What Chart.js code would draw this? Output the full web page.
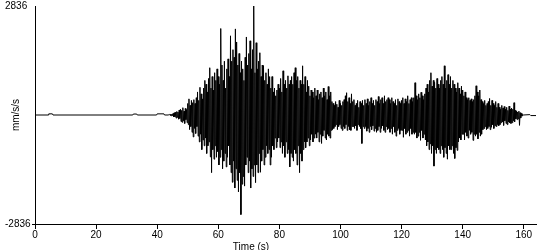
<!DOCTYPE html>
<html>
<head>
<meta charset="utf-8">
<script src="https://cdn.jsdelivr.net/npm/chart.js@4"></script>
<style>
  body { margin: 0; background: #fff; }
</style>
</head>
<body>
<canvas id="myChart" width="550" height="250"></canvas>
<script>
// quiet part before the event (time s, mm/s/s)
const preTimes  = [0, 4.3, 4.5, 5.7, 5.9, 32.0, 32.2, 33.3, 33.5, 39.8, 40.0, 42.2, 42.4, 43.6];
const preValues = [0, 0, 30, 30, 0, 0, 25, 25, 0, 0, 30, 30, 0, 0];

// event, one value every waveStep seconds from waveStart (20 values = 4 s per row)
const waveStart = 44;
const waveStep = 0.2;
const waveValues = [
    15, -10, 20, -20, 25, -15, 40, -50, 60, -45, 70, -80, 90, -60, 80, -110, 130, -90, 150, -170,                       // 44
    120, -190, 190, -150, 100, -220, 170, -120, 140, -200, 300, -250, 420, -380, 250, -300, 380, -450, 320, -570,          // 48
    400, -350, 300, -480, 450, -300, 600, -550, 380, -700, 720, -500, 550, -900, 420, -650, 700, -800, 900, -600,          // 52
    800, -1000, 600, -800, 950, -700, 1230, -1090, 700, -1500, 1000, -900, 650, -1150, 1100, -800, 900, -1100, 1200, -950, // 56
    1000, -1300, 800, -1100, 2250, -900, 1300, -1400, 900, -1200, 1400, -1000, 700, -1350, 1200, -1100, 1460, -800, 1000, -1300, // 60
    2060, -1500, 1400, -1750, 1700, -1200, 1500, -1900, 2240, -1400, 1900, -1700, 1300, -2000, 1600, -1500, 1100, -2590, 1400, -1800, // 64
    1200, -1600, 900, -1850, 1500, -1300, 2030, -1100, 1300, -1500, 1600, -1200, 1930, -1900, 1200, -1400, 1700, -1600, 2836, -1300, // 68
    1100, -1760, 1880, -1300, 1200, -1500, 1400, -1000, 1620, -1490, 1000, -1200, 1300, -900, 1280, -1300, 900, -1100, 1100, -800, // 72
    800, -1000, 1200, -900, 1000, -1300, 700, -1100, 1000, -800, 600, -900, 700, -600, 500, -850, 650, -700, 800, -600,    // 76
    700, -850, 950, -700, 600, -1000, 1150, -800, 800, -1100, 900, -700, 700, -1000, 1020, -900, 800, -1350, 900, -1000,   // 80
    1000, -1100, 800, -1200, 1100, -900, 1230, -1000, 900, -1300, 1000, -800, 700, -1500, 900, -1000, 800, -1200, 1280, -900, // 84
    800, -700, 1000, -850, 600, -700, 900, -600, 750, -800, 500, -650, 650, -500, 600, -700, 450, -600, 700, -500,         // 88
    500, -600, 650, -450, 400, -700, 550, -500, 600, -740, 450, -550, 700, -400, 500, -600, 600, -650, 400, -500,          // 92
    740, -550, 500, -600, 600, -400, 350, -380, 300, -350, 250, -300, 350, -250, 280, -380, 200, -300, 380, -250,          // 96
    300, -350, 250, -400, 350, -300, 400, -350, 500, -250, 580, -400, 350, -300, 450, -380, 300, -400, 550, -300,          // 100
    350, -300, 400, -350, 250, -280, 300, -400, 380, -250, 200, -300, 350, -350, 300, -740, 380, -300, 250, -350,          // 104
    400, -300, 300, -420, 420, -350, 250, -450, 350, -300, 450, -380, 300, -280, 380, -420, 250, -350, 400, -450,          // 108
    350, -400, 480, -300, 300, -450, 400, -350, 450, -280, 300, -400, 500, -450, 350, -300, 400, -380, 450, -350,          // 112
    400, -450, 300, -350, 450, -500, 350, -300, 300, -450, 400, -550, 250, -400, 420, -350, 350, -500, 300, -400,          // 116
    380, -400, 450, -580, 300, -350, 420, -500, 350, -450, 500, -400, 300, -550, 400, -350, 450, -500, 350, -450,          // 120
    450, -500, 840, -450, 500, -600, 400, -550, 550, -450, 450, -660, 590, -400, 500, -600, 400, -500, 550, -650,          // 124
    700, -800, 800, -700, 600, -900, 900, -750, 1100, -1000, 750, -800, 900, -1330, 850, -900, 700, -1000, 950, -850,      // 128
    800, -900, 700, -1000, 900, -800, 1000, -900, 800, -1100, 1280, -850, 700, -1000, 900, -1150, 1050, -800, 800, -900,   // 132
    1000, -900, 700, -800, 900, -1000, 800, -1130, 700, -850, 600, -920, 840, -700, 700, -600, 550, -650, 750, -500,       // 136
    650, -500, 500, -650, 600, -450, 450, -550, 400, -600, 450, -400, 380, -500, 420, -450, 350, -660, 400, -500,          // 140
    500, -550, 760, -500, 600, -620, 500, -450, 650, -550, 400, -500, 350, -380, 300, -350, 380, -300, 250, -380,          // 144
    300, -350, 350, -300, 430, -380, 250, -320, 380, -250, 300, -350, 250, -280, 350, -300, 200, -250, 300, -280,          // 148
    200, -250, 150, -200, 250, -180, 180, -270, 220, -150, 150, -220, 200, -250, 120, -180, 230, -200, 150, -220,          // 152
    180, -200, 150, -150, 320, -180, 120, -100, 100, -120, 80, -100, 100, -270, 60, -80, 40, -30, 10, 0                   // 156
];

// tail after the event
const postTimes  = [162, 162.3, 164];
const postValues = [10, -15, -15];

const xTicks = [0, 20, 40, 60, 80, 100, 120, 140, 160];
const yTicks = [-2836, 2836];

const points = [];
preTimes.forEach((t, i) => points.push({ x: t, y: preValues[i] }));
waveValues.forEach((v, i) => points.push({ x: +(waveStart + i * waveStep).toFixed(2), y: v }));
postTimes.forEach((t, i) => points.push({ x: t, y: postValues[i] }));

const font = { family: "'Liberation Sans', Arial, sans-serif", size: 10 };

// x title sits left of the plot centre in the original
const xTitle = {
    id: 'xTitle',
    afterDraw(chart) {
        const ctx = chart.ctx;
        ctx.save();
        ctx.font = "10px 'Liberation Sans', Arial, sans-serif";
        ctx.fillStyle = '#000';
        ctx.textAlign = 'center';
        ctx.textBaseline = 'middle';
        ctx.fillText('Time (s)', 251, 247);
        ctx.restore();
    }
};

new Chart(document.getElementById('myChart').getContext('2d'), {
    type: 'line',
    data: {
        datasets: [{
            data: points,
            borderColor: '#000',
            borderWidth: 1,
            pointRadius: 0,
            tension: 0,
            fill: false
        }]
    },
    options: {
        responsive: false,
        animation: false,
        events: [],
        layout: { padding: { top: 5, right: 14, left: 5, bottom: 0 } },
        plugins: { legend: { display: false }, tooltip: { enabled: false } },
        scales: {
            x: {
                type: 'linear',
                min: 0,
                max: 164,
                afterBuildTicks: axis => { axis.ticks = xTicks.map(v => ({ value: v })); },
                afterFit: axis => { axis.height = 26; },
                grid: { display: true, drawOnChartArea: false, drawTicks: true, tickLength: 5, color: '#000' },
                border: { display: true, color: '#000', width: 1 },
                ticks: { color: '#000', font, padding: 0, maxRotation: 0, autoSkip: false, callback: v => String(v) }
            },
            y: {
                min: -2836,
                max: 2836,
                afterBuildTicks: axis => { axis.ticks = yTicks.map(v => ({ value: v })); },
                afterFit: axis => { axis.width = 30; },
                grid: {
                    display: true, drawOnChartArea: false, drawTicks: true, tickLength: 3,
                    color: ctx => (ctx.tick && ctx.tick.value < 0) ? '#000' : 'rgba(0,0,0,0)'
                },
                border: { display: true, color: '#000', width: 1 },
                ticks: { color: '#000', font, padding: 0, crossAlign: 'far', callback: v => String(v) },
                title: { display: true, text: 'mm/s/s', color: '#000', font, padding: { top: 5 } }
            }
        }
    },
    plugins: [xTitle]
});
</script>
</body>
</html>
